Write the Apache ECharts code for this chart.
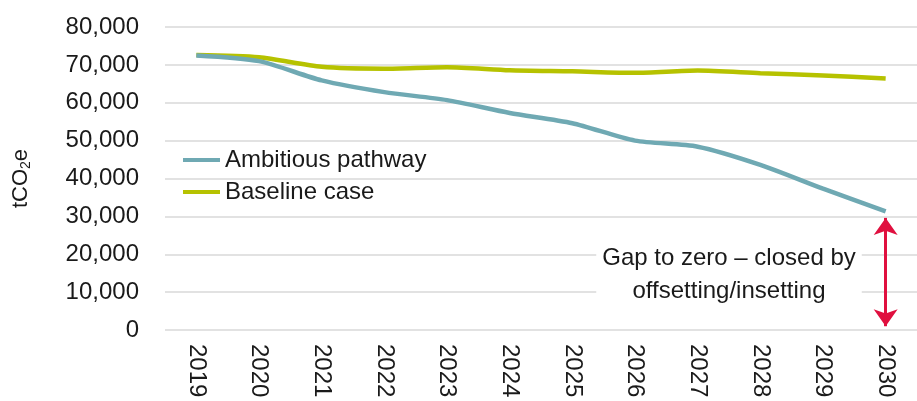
<!DOCTYPE html>
<html>
<head>
<meta charset="utf-8">
<script src="https://cdn.jsdelivr.net/npm/echarts@6/dist/echarts.min.js"></script>
<style>
  html, body { margin: 0; padding: 0; background: #fff; }
  #chart { width: 917px; height: 401px; }
</style>
</head>
<body>
<div id="chart"></div>
<script>
const years = ['2019', '2020', '2021', '2022', '2023', '2024', '2025', '2026', '2027', '2028', '2029', '2030'];
const ambitious = [72500, 71000, 65900, 62800, 60700, 57300, 54600, 50000, 48400, 43600, 37300, 31300];
const baseline = [72600, 72000, 69500, 69000, 69400, 68600, 68300, 67900, 68500, 67800, 67200, 66400];
const yTicks = { min: 0, max: 80000, interval: 10000 };

const font = '"Liberation Sans", Arial, sans-serif';
const textColor = '#1a1a1a';

// arrow spans from just under the last ambitious value down to zero
const lastIdx = years.length - 1;
const gapTop = ambitious[lastIdx] - 1700;
const gapBottom = 1000;

const chart = echarts.init(document.getElementById('chart'));

const option = {
  animation: false,
  grid: { left: 165, top: 27, width: 761, height: 303 },
  legend: {
    left: 178,
    top: 143,
    orient: 'vertical',
    icon: 'rect',
    itemWidth: 37,
    itemHeight: 4,
    itemGap: 8,
    textStyle: { fontFamily: font, fontSize: 24, color: textColor, padding: [0, 0, 0, 0] },
    data: ['Ambitious pathway', 'Baseline case']
  },
  xAxis: {
    type: 'category',
    data: years,
    boundaryGap: true,
    axisLine: { show: false },
    axisTick: { show: false },
    axisLabel: { rotate: -90, margin: 14, fontFamily: font, fontSize: 24, color: textColor }
  },
  yAxis: {
    type: 'value',
    min: yTicks.min,
    max: yTicks.max,
    interval: yTicks.interval,
    name: 'tCO{sub|2}e',
    nameLocation: 'middle',
    nameRotate: 90,
    nameGap: 132,
    nameTextStyle: {
      fontFamily: font, fontSize: 22, color: textColor,
      rich: { sub: { fontFamily: font, fontSize: 14, color: textColor, padding: [10, 0, 0, 0] } }
    },
    axisLine: { show: false },
    axisTick: { show: false },
    axisLabel: {
      margin: 26,
      fontFamily: font, fontSize: 24, color: textColor,
      formatter: v => v.toLocaleString('en-US')
    },
    splitLine: { lineStyle: { color: '#d9d9d9', width: 1.5 } }
  },
  series: [
    {
      name: 'Ambitious pathway',
      type: 'line',
      data: ambitious,
      smooth: 0.25,
      symbol: 'none',
      lineStyle: { color: '#6fa9b3', width: 4.5 },
      itemStyle: { color: '#6fa9b3' },
      z: 3,
      markLine: {
        silent: true,
        symbol: ['arrow', 'arrow'],
        symbolSize: [18, 17],
        label: { show: false },
        lineStyle: { color: '#e0103f', width: 3, type: 'solid' },
        data: [[
          { coord: [years[lastIdx], gapTop] },
          { coord: [years[lastIdx], gapBottom] }
        ]]
      }
    },
    {
      name: 'Baseline case',
      type: 'line',
      data: baseline,
      smooth: 0.25,
      symbol: 'none',
      lineStyle: { color: '#b6c200', width: 4.5 },
      itemStyle: { color: '#b6c200' },
      z: 2
    }
  ],
  graphic: [
    {
      type: 'text',
      x: 729,
      y: 240,
      z: 10,
      style: {
        text: 'Gap to zero \u2013 closed by\noffsetting/insetting',
        align: 'center',
        verticalAlign: 'top',
        fontFamily: font,
        fontSize: 24,
        lineHeight: 33,
        fill: textColor,
        backgroundColor: '#fff',
        padding: [2, 6]
      }
    }
  ]
};

chart.setOption(option);
</script>
</body>
</html>
